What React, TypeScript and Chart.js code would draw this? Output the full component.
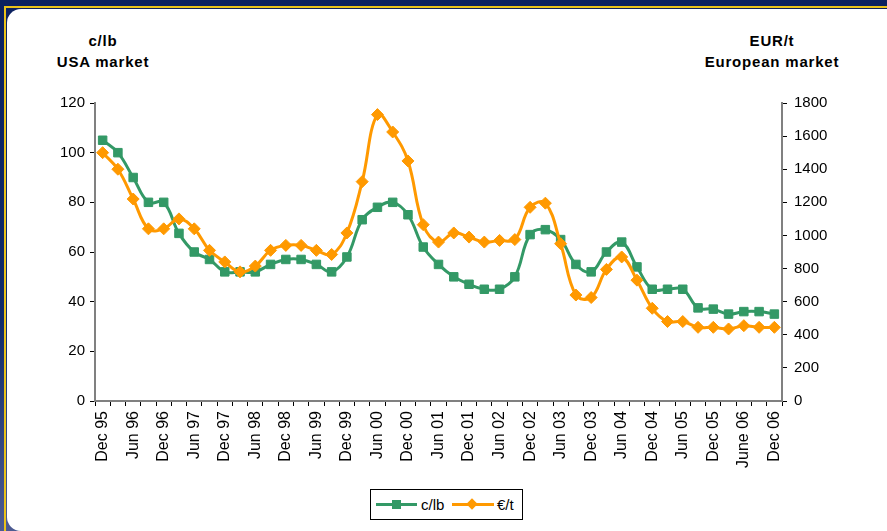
import React, { useEffect, useRef } from "react";
import { Chart, registerables } from "chart.js";

Chart.register(...registerables);

// Quarterly categories, Dec 1995 – Dec 2006
const quarters: string[] = [
  "Dec 95", "Mar 96", "Jun 96", "Sep 96", "Dec 96", "Mar 97", "Jun 97", "Sep 97",
  "Dec 97", "Mar 98", "Jun 98", "Sep 98", "Dec 98", "Mar 99", "Jun 99", "Sep 99",
  "Dec 99", "Mar 00", "Jun 00", "Sep 00", "Dec 00", "Mar 01", "Jun 01", "Sep 01",
  "Dec 01", "Mar 02", "Jun 02", "Sep 02", "Dec 02", "Mar 03", "Jun 03", "Sep 03",
  "Dec 03", "Mar 04", "Jun 04", "Sep 04", "Dec 04", "Mar 05", "Jun 05", "Sep 05",
  "Dec 05", "Mar 06", "June 06", "Sep 06", "Dec 06",
];

// USA market, c/lb (left axis)
const usaCentsPerLb: number[] = [
  105, 100, 90, 80, 80, 67.5, 60, 57, 52, 52, 52, 55, 57, 57, 55, 52,
  58, 73, 78, 80, 75, 62, 55, 50, 47, 45, 45, 50, 67, 69, 65, 55,
  52, 60, 64, 54, 45, 45, 45, 37.5, 37, 35, 36, 36, 35,
];

// European market, EUR/t (right axis)
const europeEurPerTonne: number[] = [
  1500, 1400, 1220, 1040, 1040, 1100, 1040, 910, 840, 780, 815, 910, 940, 940, 910, 885,
  1015, 1325, 1730, 1625, 1450, 1065, 960, 1015, 990, 960, 970, 975, 1170, 1195, 950, 640,
  625, 795, 870, 730, 560, 480, 480, 445, 445, 435, 455, 445, 445,
];

const leftAxis = { min: 0, max: 120, step: 20 };
const rightAxis = { min: 0, max: 1800, step: 200 };

const seriesNames = ["c/lb", "€/t"];
const GREEN = "#339966";
const ORANGE = "#FF9900";
const FONT = "'Liberation Sans', Arial, sans-serif";

export default function App() {
  const ref = useRef<HTMLCanvasElement>(null);

  useEffect(() => {
    if (!ref.current) return;
    const tickFont = { family: FONT, size: 15 };
    const xFont = { family: FONT, size: 16 };
    const chart = new Chart(ref.current, {
      type: "line",
      data: {
        labels: quarters,
        datasets: [
          {
            label: seriesNames[0],
            data: usaCentsPerLb,
            yAxisID: "y",
            borderColor: GREEN,
            backgroundColor: GREEN,
            pointBackgroundColor: GREEN,
            pointBorderColor: GREEN,
            borderWidth: 3,
            pointStyle: "rect",
            pointRadius: 6,
            pointBorderWidth: 1,
            tension: 0.4,
            order: 2,
          },
          {
            label: seriesNames[1],
            data: europeEurPerTonne,
            yAxisID: "y1",
            borderColor: ORANGE,
            backgroundColor: ORANGE,
            pointBackgroundColor: ORANGE,
            pointBorderColor: ORANGE,
            borderWidth: 3,
            pointStyle: "rectRot",
            pointRadius: 6,
            pointBorderWidth: 1,
            tension: 0.4,
            order: 1,
          },
        ],
      },
      options: {
        responsive: false,
        animation: false,
        layout: { padding: { top: 103, bottom: 50, left: 0, right: 0 } },
        plugins: {
          legend: { display: false },
          tooltip: { enabled: false },
        },
        scales: {
          x: {
            type: "category",
            offset: true,
            grid: {
              offset: true,
              drawOnChartArea: false,
              drawTicks: true,
              tickLength: 5,
              color: "#000",
            },
            border: { color: "#808080", width: 2 },
            ticks: {
              autoSkip: false,
              minRotation: 90,
              maxRotation: 90,
              padding: 5,
              color: "#000",
              font: xFont,
              callback: (_v: any, i: number) => (i % 2 === 0 ? quarters[i] : ""),
            },
            afterFit: (s: any) => {
              s.height = 80;
            },
          },
          y: {
            position: "left",
            min: leftAxis.min,
            max: leftAxis.max,
            grid: { drawOnChartArea: false, tickLength: 5, color: "#000" },
            border: { color: "#808080", width: 2 },
            ticks: {
              stepSize: leftAxis.step,
              padding: 5,
              color: "#000",
              font: tickFont,
              callback: (v: any) => String(v),
            },
            afterFit: (s: any) => {
              s.width = 95;
            },
          },
          y1: {
            position: "right",
            min: rightAxis.min,
            max: rightAxis.max,
            grid: { drawOnChartArea: false, tickLength: 5, color: "#000" },
            border: { color: "#808080", width: 2 },
            ticks: {
              stepSize: rightAxis.step,
              padding: 7,
              color: "#000",
              font: tickFont,
              callback: (v: any) => String(v),
            },
            afterFit: (s: any) => {
              s.width = 105;
            },
          },
        },
      },
    });
    return () => chart.destroy();
  }, []);

  const titleStyle: React.CSSProperties = {
    position: "absolute",
    fontFamily: FONT,
    fontWeight: "bold",
    fontSize: 15,
    lineHeight: "17px",
    letterSpacing: "0.8px",
    color: "#000",
    textAlign: "center",
    whiteSpace: "nowrap",
  };

  const legendText: React.CSSProperties = {
    position: "absolute",
    fontFamily: FONT,
    fontSize: 15,
    lineHeight: "17px",
    top: 6,
    color: "#000",
  };

  return (
    <div
      style={{
        position: "fixed",
        left: 0,
        top: 0,
        width: 887,
        height: 531,
        overflow: "hidden",
        background: "linear-gradient(180deg, #0b2160 0%, #0f2a6a 60%, #4d5b92 100%)",
      }}
    >
      {/* gold frame */}
      <div
        style={{
          position: "absolute",
          left: 4,
          top: 6,
          right: 0,
          bottom: 0,
          borderTop: "2px solid #e9c21a",
          borderLeft: "2px solid #e9c21a",
        }}
      />
      {/* white panel */}
      <div
        style={{
          position: "absolute",
          left: 7,
          top: 9,
          right: 0,
          bottom: 0,
          background: "#fff",
          borderRadius: "14px 0 0 14px",
        }}
      />
      <div style={{ ...titleStyle, left: 40, width: 126, top: 32 }}>c/lb</div>
      <div style={{ ...titleStyle, left: 40, width: 126, top: 53 }}>USA market</div>
      <div style={{ ...titleStyle, left: 692, width: 160, top: 32 }}>EUR/t</div>
      <div style={{ ...titleStyle, left: 692, width: 160, top: 53 }}>European market</div>

      <canvas
        ref={ref}
        width={887}
        height={531}
        style={{ position: "absolute", left: 0, top: 0, width: 887, height: 531 }}
      />

      {/* legend */}
      <div
        style={{
          position: "absolute",
          left: 370,
          top: 489,
          width: 151,
          height: 29,
          border: "1px solid #000",
          background: "#fff",
        }}
      >
        <div style={{ position: "absolute", left: 5, top: 13, width: 41, height: 3, background: GREEN }} />
        <div style={{ position: "absolute", left: 21, top: 10, width: 9, height: 9, background: GREEN }} />
        <div style={{ ...legendText, left: 50 }}>{seriesNames[0]}</div>
        <div style={{ position: "absolute", left: 81, top: 13, width: 42, height: 3, background: ORANGE }} />
        <div
          style={{
            position: "absolute",
            left: 97,
            top: 10,
            width: 8,
            height: 8,
            background: ORANGE,
            transform: "rotate(45deg)",
          }}
        />
        <div style={{ ...legendText, left: 126 }}>{seriesNames[1]}</div>
      </div>
    </div>
  );
}
